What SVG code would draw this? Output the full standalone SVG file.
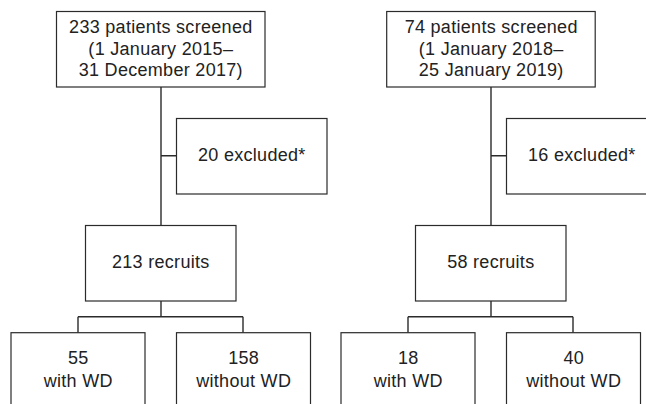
<svg xmlns="http://www.w3.org/2000/svg" width="646" height="404" viewBox="0 0 646 404">
<style>
.box{fill:#fff;stroke:#2b2b2b;stroke-width:1.2}
.ln{fill:none;stroke:#2b2b2b;stroke-width:1.4}
text{font-family:"Liberation Sans",Arial,sans-serif;font-size:18px;letter-spacing:0.3px;fill:#222;text-anchor:middle}
</style>
<rect width="646" height="404" fill="#fff"/>
<g id="connectors">
<path class="ln" d="M161 87V225.5M161 155.7H176.5M161 301V316.7M78 316.7H243M78 316.7V332.7M243 316.7V332.7"/>
<path class="ln" d="M491 87V225.5M491 155.7H506.5M491 301V316.7M408 316.7H573M408 316.7V332.7M573 316.7V332.7"/>
</g>
<g id="screened1"><rect class="box" x="56.5" y="11.5" width="208.5" height="75.5"/>
<text x="160.8" y="33">233 patients screened</text><text x="160.8" y="54.5">(1 January 2015–</text><text x="160.8" y="76">31 December 2017)</text></g>
<g id="excluded1"><rect class="box" x="176.5" y="118.5" width="150.5" height="75.5"/><text x="251.8" y="161">20 excluded*</text></g>
<g id="recruits1"><rect class="box" x="85.5" y="225.5" width="150.5" height="75.5"/><text x="160.8" y="268.3">213 recruits</text></g>
<g id="withwd1"><rect class="box" x="11" y="332.7" width="134" height="90"/><text x="78.2" y="364">55</text><text x="78.2" y="386.7">with WD</text></g>
<g id="withoutwd1"><rect class="box" x="176.5" y="332.7" width="134" height="90"/><text x="243.7" y="364">158</text><text x="243.7" y="386.7">without WD</text></g>
<g id="screened2"><rect class="box" x="386.7" y="11.5" width="208.5" height="75.5"/>
<text x="491.2" y="33">74 patients screened</text><text x="491.2" y="54.5">(1 January 2018–</text><text x="491.2" y="76">25 January 2019)</text></g>
<g id="excluded2"><rect class="box" x="506.5" y="118.5" width="150.5" height="75.5"/><text x="581.8" y="161">16 excluded*</text></g>
<g id="recruits2"><rect class="box" x="415.5" y="225.5" width="150.5" height="75.5"/><text x="490.8" y="268.3">58 recruits</text></g>
<g id="withwd2"><rect class="box" x="341" y="332.7" width="134" height="90"/><text x="408.2" y="364">18</text><text x="408.2" y="386.7">with WD</text></g>
<g id="withoutwd2"><rect class="box" x="506.5" y="332.7" width="134" height="90"/><text x="573.7" y="364">40</text><text x="573.7" y="386.7">without WD</text></g>
</svg>
